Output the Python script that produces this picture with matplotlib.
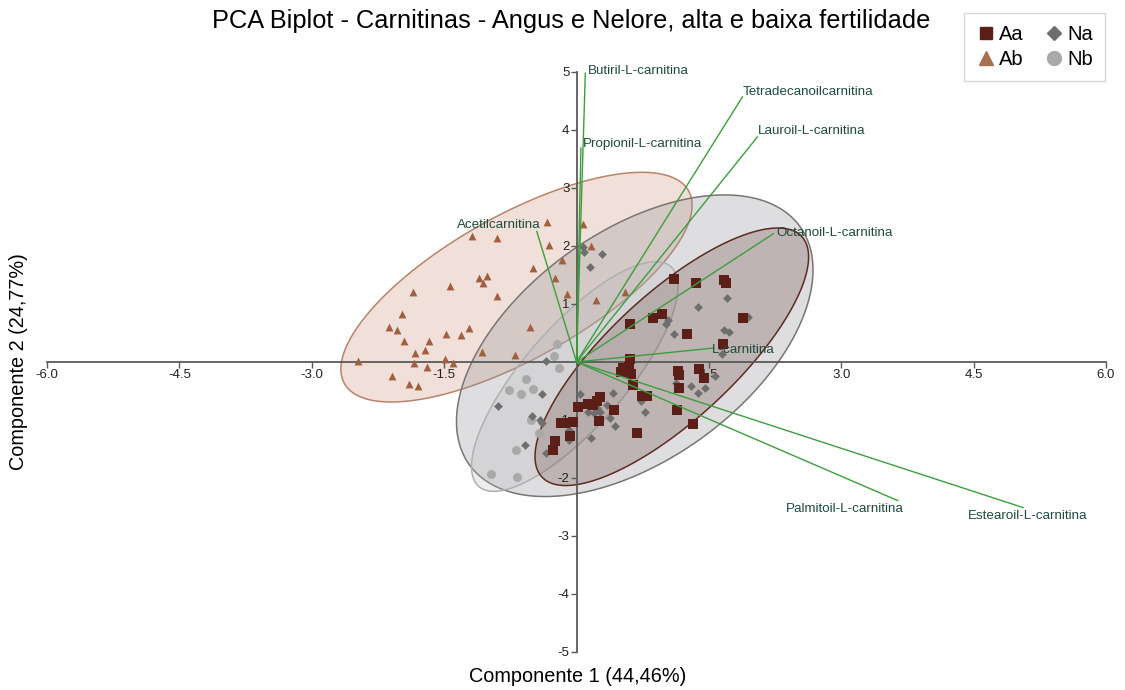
import matplotlib
matplotlib.use("Agg")
import matplotlib.pyplot as plt
import numpy as np

plt.rcParams['font.family'] = ['Liberation Sans', 'DejaVu Sans']

# scores (Componente 1, Componente 2) por grupo
aa_x = [1.10, 1.35, 1.67, 1.69, 0.61, 0.87, 0.97, 1.25, 1.89, 1.66, 0.61, 0.50, 0.53, 0.59,
        0.62, 0.64, 1.15, 1.16, 1.16, 1.39, 1.45, 0.74, 0.80, 1.14, 1.32, 0.69, 0.43, 0.26,
        0.02, 0.19, 0.23, 0.27, 0.13, -0.18, -0.13, -0.04, -0.07, -0.24, -0.27]
aa_y = [1.43, 1.36, 1.41, 1.36, 0.66, 0.76, 0.82, 0.49, 0.75, 0.31, 0.05, -0.18, -0.11, -0.08,
        -0.21, -0.40, -0.16, -0.23, -0.45, -0.12, -0.28, -0.58, -0.59, -0.83, -1.07, -1.22, -0.82, -1.02,
        -0.77, -0.74, -0.68, -0.60, -0.72, -1.05, -1.05, -1.03, -1.28, -1.37, -1.52]

ab_x = [-0.34, -1.18, -0.90, -0.31, 0.16, 0.07, -0.16, -0.49, -1.10, -1.01, -1.06, -1.43, -0.24,
        -1.85, -0.90, -0.11, 0.22, -1.98, -2.12, -2.03, -1.95, -1.67, -1.48, -1.31, -1.22, -0.53,
        -1.72, -1.83, -1.07, -0.70, -2.48, -1.84, -1.49, -1.40, -1.69, -2.09, -1.90, -1.80, 0.55]
ab_y = [2.41, 2.18, 2.13, 2.01, 2.00, 2.38, 1.75, 1.62, 1.44, 1.48, 1.37, 1.31, 1.44,
        1.20, 1.14, 1.17, 1.06, 0.82, 0.60, 0.55, 0.36, 0.37, 0.48, 0.46, 0.59, 0.60,
        0.21, 0.16, 0.17, 0.12, 0.02, -0.01, 0.05, -0.01, -0.09, -0.24, -0.38, -0.41, 1.21]

na_x = [0.07, 0.08, 0.29, 0.15, 1.71, 1.38, 1.04, 1.01, 1.94, 1.11, 1.67, 1.73, 1.65, -0.35,
        1.13, 1.30, 1.38, 1.46, 0.41, 0.73, 0.78, -0.39, 0.04, -0.89, -0.51, -0.41, -0.39, 0.13,
        0.20, 0.27, 0.34, 0.38, 0.44, -0.09, 0.16, -0.58, -0.35, -0.08, 1.57, 0.23]
na_y = [1.99, 1.90, 1.86, 1.64, 1.10, 0.94, 0.72, 0.65, 0.77, 0.48, 0.55, 0.51, 0.13, 0.02,
        -0.37, -0.42, -0.54, -0.45, -0.54, -0.67, -0.86, -0.56, -0.55, -0.76, -0.93, -1.00, -1.06, -0.87,
        -0.88, -0.86, -0.75, -0.97, -1.11, -1.17, -1.31, -1.44, -1.57, -1.34, -0.24, -0.80]

nb_x = [-0.22, -0.25, -0.20, -0.57, -0.49, -0.63, -0.77, -0.52, -0.42, -0.69, -0.97, -0.67]
nb_y = [0.31, 0.10, -0.11, -0.29, -0.47, -0.56, -0.49, -1.00, -1.22, -1.51, -1.94, -1.98]

# elipses: centro, meia-largura em x, meia-altura em y, correlacao
ell_groups = ['Ab', 'Na', 'Nb', 'Aa']
ell_cx = [-0.68, 0.66, -0.02, 1.08]
ell_cy = [1.29, 0.28, -0.25, 0.09]
ell_wx = [1.99, 2.02, 1.17, 1.55]
ell_hy = [1.98, 2.60, 1.98, 2.22]
ell_r = [0.713, 0.503, 0.783, 0.775]

# cargas (loadings)
var_names = ['Butiril-L-carnitina', 'Propionil-L-carnitina', 'Tetradecanoilcarnitina',
             'Lauroil-L-carnitina', 'Octanoil-L-carnitina', 'Acetilcarnitina', 'L-carnitina',
             'Palmitoil-L-carnitina', 'Estearoil-L-carnitina']
load_x = [0.10, 0.05, 1.88, 2.05, 2.23, -0.45, 1.55, 3.64, 5.06]
load_y = [4.98, 3.69, 4.57, 3.88, 2.21, 2.25, 0.24, -2.39, -2.51]

xticks = [-6.0, -4.5, -3.0, -1.5, 1.5, 3.0, 4.5, 6.0]
yticks = [-5, -4, -3, -2, -1, 1, 2, 3, 4, 5]

fill_col = {'Ab': (0.80, 0.56, 0.45, 0.27), 'Na': (0.58, 0.58, 0.60, 0.30),
            'Nb': (0.72, 0.72, 0.74, 0.25), 'Aa': (0.42, 0.27, 0.24, 0.27)}
edge_col = {'Ab': '#b8836a', 'Na': '#7a7472', 'Nb': '#b0b0b0', 'Aa': '#5e2a20'}

fig = plt.figure(figsize=(11.25, 6.9), dpi=100)
ax = fig.add_axes([0.0418, 0.0551, 0.9413, 0.8406])

t = np.linspace(0, 2 * np.pi, 300)
for i, g in enumerate(ell_groups):
    r = ell_r[i]
    ex = ell_cx[i] + ell_wx[i] * np.cos(t)
    ey = ell_cy[i] + ell_hy[i] * (r * np.cos(t) + np.sqrt(1 - r ** 2) * np.sin(t))
    ax.fill(ex, ey, facecolor=fill_col[g], edgecolor=edge_col[g], linewidth=1.1, zorder=1 + i * 0.1)

ax.scatter(ab_x, ab_y, marker='^', s=32, color='#a0603f', linewidths=0, zorder=3)
ax.scatter(nb_x, nb_y, marker='o', s=42, color='#a9a9a9', linewidths=0, zorder=3)
ax.scatter(na_x, na_y, marker='D', s=20, color='#6e6e6e', linewidths=0, zorder=3)
ax.scatter(aa_x, aa_y, marker='s', s=44, color='#5c1f18', linewidths=0, zorder=3)

lab_pos = {
    'Butiril-L-carnitina': (3, 2, 'left', 'center'),
    'Propionil-L-carnitina': (2, 4, 'left', 'center'),
    'Tetradecanoilcarnitina': (0, 5, 'left', 'center'),
    'Lauroil-L-carnitina': (0, 6, 'left', 'center'),
    'Octanoil-L-carnitina': (3, 1, 'left', 'center'),
    'Acetilcarnitina': (4, 0, 'right', 'bottom'),
    'L-carnitina': (-1, -2, 'left', 'center'),
    'Palmitoil-L-carnitina': (6, -2, 'right', 'top'),
    'Estearoil-L-carnitina': (5, -2, 'center', 'top'),
}
for name, lx, ly in zip(var_names, load_x, load_y):
    ax.plot([0, lx], [0, ly], color='#3c9e3c', linewidth=1.0, zorder=4)
    dx, dy, ha, va = lab_pos[name]
    ax.annotate(name, (lx, ly), xytext=(dx, dy), textcoords='offset pixels',
                ha=ha, va=va, fontsize=9.6, color='#1f4a3a', zorder=5)

ax.set_xlim(-6, 6)
ax.set_ylim(-5, 5)
for s in ['top', 'right']:
    ax.spines[s].set_visible(False)
ax.spines['left'].set_position(('data', 0))
ax.spines['bottom'].set_position(('data', 0))
for s in ['left', 'bottom']:
    ax.spines[s].set_color('#5a5a5a')
    ax.spines[s].set_linewidth(1.3)
    ax.spines[s].set_zorder(2)
ax.set_xticks(xticks)
ax.set_xticklabels(['%.1f' % v for v in xticks])
ax.set_yticks(yticks)
ax.set_yticklabels([str(v) for v in yticks])
ax.tick_params(axis='both', labelsize=9.5, colors='#5a5a5a', labelcolor='#222222',
               length=4, width=1.0, pad=1)
ax.patch.set_visible(False)

fig.text(0.508, 1 - 21 / 690, 'PCA Biplot - Carnitinas - Angus e Nelore, alta e baixa fertilidade',
         ha='center', va='center', fontsize=18.3)
fig.text(578 / 1125, 1 - 677 / 690, 'Componente 1 (44,46%)', ha='center', va='center', fontsize=14.3)
fig.text(19 / 1125, 1 - 362 / 690, 'Componente 2 (24,77%)', ha='center', va='center',
         rotation=90, fontsize=14.3)

h_aa = plt.Line2D([], [], marker='s', linestyle='', color='#5c1f18', markersize=9)
h_ab = plt.Line2D([], [], marker='^', linestyle='', color='#a8704f', markersize=10)
h_na = plt.Line2D([], [], marker='D', linestyle='', color='#6e6e6e', markersize=7.5)
h_nb = plt.Line2D([], [], marker='o', linestyle='', color='#a9a9a9', markersize=10)
fig.legend([h_aa, h_ab, h_na, h_nb], ['Aa', 'Ab', 'Na', 'Nb'], ncol=2,
           loc='upper right', bbox_to_anchor=(1105 / 1125, 1 - 13 / 690), borderaxespad=0,
           fontsize=14.5, frameon=True, fancybox=False, edgecolor='#cccccc',
           handletextpad=0.15, columnspacing=1.0, handlelength=1.0,
           borderpad=0.6, labelspacing=0.3)

fig.savefig('out.png', dpi=100)
